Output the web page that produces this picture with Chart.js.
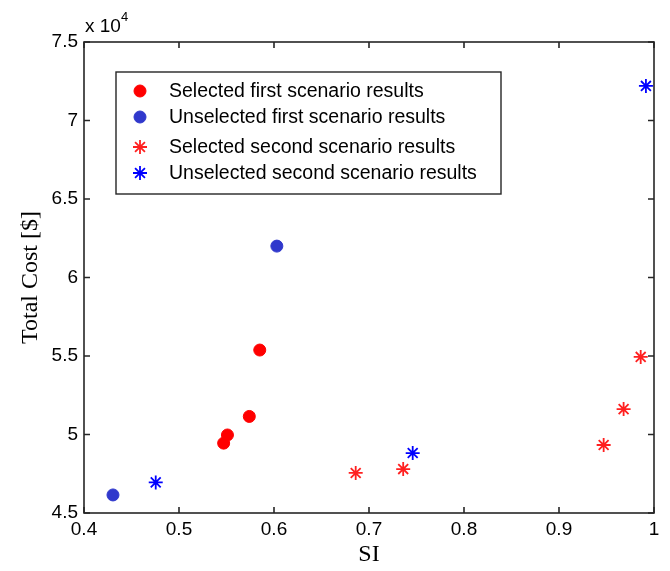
<!DOCTYPE html>
<html>
<head>
<meta charset="utf-8">
<script src="https://cdn.jsdelivr.net/npm/chart.js@4.4.1/dist/chart.umd.min.js"></script>
<style>
  html, body { margin: 0; padding: 0; background: #fff; }
</style>
</head>
<body>
<canvas id="myChart" width="670" height="571"></canvas>
<script>
// values (SI, total cost in $)
const siSelected1 = [0.547, 0.551, 0.574, 0.585];
const costSelected1 = [49450, 49970, 51150, 55380];
const siUnselected1 = [0.4305, 0.603];
const costUnselected1 = [46150, 62000];
const siSelected2 = [0.686, 0.736, 0.947, 0.968, 0.986];
const costSelected2 = [47550, 47800, 49330, 51620, 54940];
const siUnselected2 = [0.4755, 0.746, 0.9915];
const costUnselected2 = [46950, 48820, 72200];

const xTicks = [0.4, 0.5, 0.6, 0.7, 0.8, 0.9, 1];
const yTicks = [45000, 50000, 55000, 60000, 65000, 70000, 75000];

function toPoints(xs, ys) {
  return xs.map((v, i) => ({ x: v, y: ys[i] }));
}

var ctx = document.getElementById('myChart');
var sans = '"Liberation Sans", Arial, sans-serif';
var serif = '"Liberation Serif", "Times New Roman", serif';

// box round the plot with inward ticks (matlab look), the legend and the x 10^4 label
const framePlugin = {
  id: 'frame',
  afterDraw(chart) {
    const c = chart.ctx;
    const a = chart.chartArea;
    const xs = chart.scales.x, ys = chart.scales.y;
    c.save();
    c.strokeStyle = '#262626';
    c.lineWidth = 1.6;
    c.strokeRect(a.left, a.top, a.right - a.left, a.bottom - a.top);
    c.beginPath();
    xTicks.forEach(v => {
      const px = xs.getPixelForValue(v);
      c.moveTo(px, a.bottom); c.lineTo(px, a.bottom - 6);
      c.moveTo(px, a.top); c.lineTo(px, a.top + 6);
    });
    yTicks.forEach(v => {
      const py = ys.getPixelForValue(v);
      c.moveTo(a.left, py); c.lineTo(a.left + 6, py);
      c.moveTo(a.right, py); c.lineTo(a.right - 6, py);
    });
    c.stroke();

    // exponent label
    c.fillStyle = '#000';
    c.font = '19px ' + sans;
    c.textBaseline = 'alphabetic';
    c.textAlign = 'left';
    c.fillText('x 10', a.left + 1, a.top - 10);
    c.font = '13px ' + sans;
    c.fillText('4', a.left + 37, a.top - 21);

    // legend
    const bx = 116, by = 72, bw = 385, bh = 122;
    c.fillStyle = '#fff';
    c.fillRect(bx, by, bw, bh);
    c.strokeStyle = '#262626';
    c.lineWidth = 1.4;
    c.strokeRect(bx, by, bw, bh);
    c.font = '19.5px ' + sans;
    c.textBaseline = 'middle';
    const rows = [91, 117, 147, 173];
    chart.data.datasets.forEach((ds, i) => {
      c.fillStyle = ds.backgroundColor;
      c.strokeStyle = ds.borderColor;
      c.lineWidth = ds.borderWidth;
      Chart.helpers.drawPoint(c, {
        pointStyle: ds.pointStyle,
        radius: ds.pointRadius,
        borderWidth: ds.borderWidth,
        rotation: 0
      }, 140, rows[i]);
      c.fillStyle = '#000';
      c.fillText(ds.label, 169, rows[i] + 1);
    });
    c.restore();
  }
};

var myChart = new Chart(ctx, {
  type: 'scatter',
  data: {
    datasets: [
      {
        label: 'Selected first scenario results',
        data: toPoints(siSelected1, costSelected1),
        pointStyle: 'circle',
        pointRadius: 6,
        backgroundColor: '#ff0000',
        borderColor: '#ff0000',
        borderWidth: 1
      },
      {
        label: 'Unselected first scenario results',
        data: toPoints(siUnselected1, costUnselected1),
        pointStyle: 'circle',
        pointRadius: 6,
        backgroundColor: '#3038cc',
        borderColor: '#3038cc',
        borderWidth: 1
      },
      {
        label: 'Selected second scenario results',
        data: toPoints(siSelected2, costSelected2),
        pointStyle: 'star',
        pointRadius: 7,
        backgroundColor: '#ff2020',
        borderColor: '#ff2020',
        borderWidth: 1.8
      },
      {
        label: 'Unselected second scenario results',
        data: toPoints(siUnselected2, costUnselected2),
        pointStyle: 'star',
        pointRadius: 7,
        backgroundColor: '#0000ff',
        borderColor: '#0000ff',
        borderWidth: 1.8
      }
    ]
  },
  options: {
    responsive: false,
    animation: false,
    layout: { padding: { left: 0, right: 16, top: 42, bottom: 0 } },
    plugins: {
      legend: { display: false },
      tooltip: { enabled: false }
    },
    scales: {
      x: {
        type: 'linear',
        min: 0.4,
        max: 1,
        afterFit: s => { s.height = 58; },
        afterBuildTicks: s => { s.ticks = xTicks.map(v => ({ value: v })); },
        grid: { display: false, drawTicks: false },
        border: { display: false },
        ticks: {
          color: '#000',
          padding: 5,
          font: { size: 19, family: sans },
          callback: v => String(Number(v.toFixed(1)))
        },
        title: {
          display: true,
          text: 'SI',
          color: '#000',
          padding: { top: 0, bottom: 2 },
          font: { size: 24, family: serif }
        }
      },
      y: {
        type: 'linear',
        min: 45000,
        max: 75000,
        afterFit: s => { s.width = 84; },
        afterBuildTicks: s => { s.ticks = yTicks.map(v => ({ value: v })); },
        grid: { display: false, drawTicks: false },
        border: { display: false },
        ticks: {
          color: '#000',
          padding: 6,
          font: { size: 19, family: sans },
          callback: v => String(Number((v / 10000).toFixed(1)))
        },
        title: {
          display: true,
          text: 'Total Cost [$]',
          color: '#000',
          padding: { top: 16, bottom: 0 },
          font: { size: 24, family: serif }
        }
      }
    }
  },
  plugins: [framePlugin]
});
</script>
</body>
</html>
